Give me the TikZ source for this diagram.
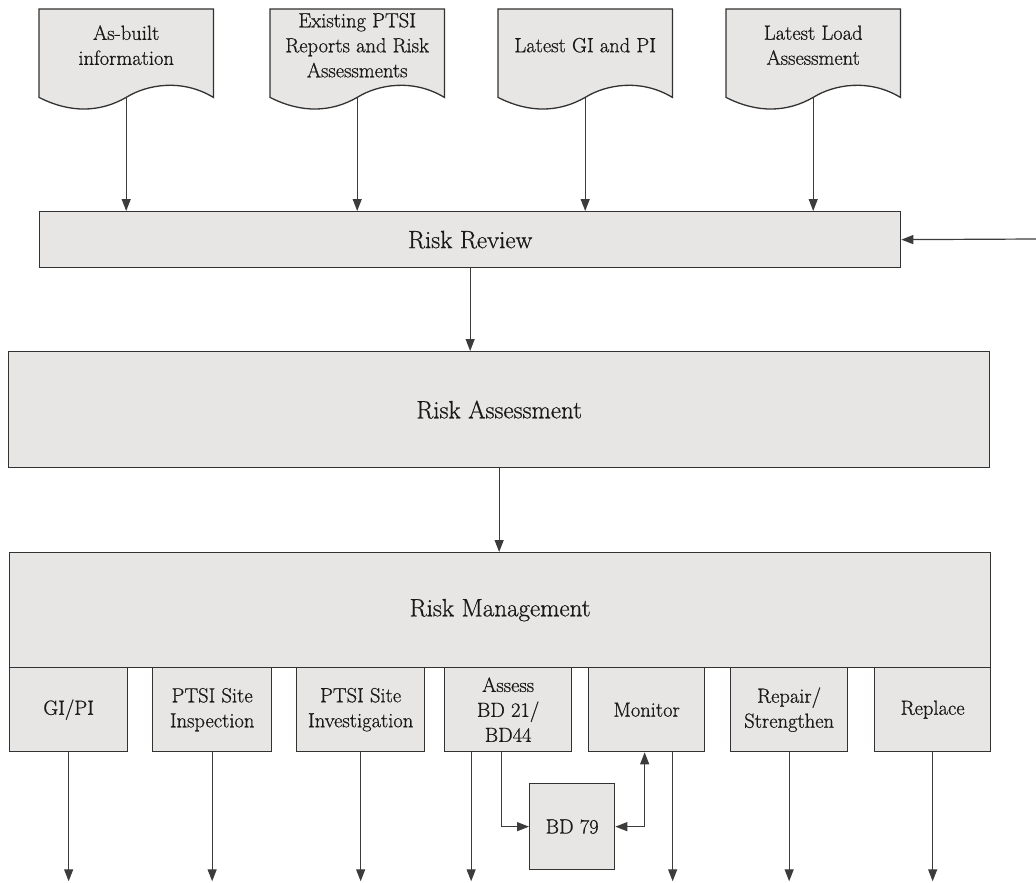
\documentclass[tikz,border=0pt]{standalone}
\usepackage{fontspec}
\setmainfont{Latin Modern Roman}[FakeBold=0.7]
\usetikzlibrary{arrows.meta,calc,backgrounds}
\definecolor{boxfill}{RGB}{231,230,229}
\definecolor{boxline}{RGB}{50,50,50}
\definecolor{arrowline}{RGB}{60,60,60}
\definecolor{txt}{RGB}{25,25,25}
\newcommand\mydocshape[1]{%
  \filldraw[draw=boxline, fill=boxfill, line width=1.3pt, line join=miter]
    (#1.north west) -- ($(#1.south west)+(0,16)$)
    .. controls ($(#1.south west)!0.18!(#1.south east)+(0,32)$) and ($(#1.south west)!0.35!(#1.south east)+(0,31)$) .. ($(#1.south)+(0,16)$)
    .. controls ($(#1.south west)!0.62!(#1.south east)+(0,3)$) and ($(#1.south west)!0.82!(#1.south east)+(0,-3)$) .. ($(#1.south east)+(0,16)$)
    -- (#1.north east) -- cycle;}
\begin{document}
\begin{tikzpicture}[x=1pt,y=-1pt,
  box/.style={draw=boxline, fill=boxfill, line width=1.3pt, inner sep=0pt, anchor=north west, align=center, text=txt, font=\fontsize{20.5}{25}\selectfont},
  bigbox/.style={box, font=\fontsize{25}{30}\selectfont},
  docnode/.style={inner sep=0pt, anchor=north west, align=center, text=txt, minimum width=174pt, minimum height=72pt, font=\fontsize{20.5}{25}\selectfont},
  flow/.style={draw=arrowline, line width=1.2pt, -{Triangle[length=12pt,width=9pt]}},
  flowboth/.style={flow, {Triangle[length=12pt,width=9pt]}-{Triangle[length=12pt,width=9pt]}},
]
\useasboundingbox (0,0) rectangle (1036,883);

% documents
\node[docnode] (d1) at (39,9) {As-built\\information};
\node[docnode] (d2) at (270,9) {Existing PTSI\\Reports and Risk\\Assessments};
\node[docnode] (d3) at (498,9) {Latest GI and PI};
\node[docnode] (d4) at (726,9) {Latest Load\\Assessment};
\begin{scope}[on background layer]
  \mydocshape{d1}
  \mydocshape{d2}
  \mydocshape{d3}
  \mydocshape{d4}
\end{scope}

% main boxes
\node[bigbox, minimum width=861pt, minimum height=56pt] (rr) at (39,211) {Risk Review};
\node[bigbox, minimum width=981pt, minimum height=116pt] (ra) at (8,351) {Risk Assessment};
\node[bigbox, minimum width=981pt, minimum height=115pt] (rm) at (9,552) {Risk Management};

% sub boxes
\node[box, minimum width=118pt, minimum height=84pt] (gi) at (9,667) {GI/PI};
\node[box, minimum width=119pt, minimum height=84pt] (si) at (152,667) {PTSI Site\\Inspection};
\node[box, minimum width=128pt, minimum height=84pt] (sv) at (296,667) {PTSI Site\\Investigation};
\node[box, minimum width=127pt, minimum height=84pt] (as) at (444,667) {Assess\\BD 21/\\BD44};
\node[box, minimum width=116pt, minimum height=84pt] (mo) at (588,667) {Monitor};
\node[box, minimum width=117pt, minimum height=84pt] (rp) at (730,667) {Repair/\\Strengthen};
\node[box, minimum width=116pt, minimum height=84pt] (rl) at (874,667) {Replace};
\node[box, minimum width=85pt, minimum height=86pt] (bd) at (529,783) {BD 79};

% connectors top
\draw[flow] ($(d1.south)+(0,16)$) -- (d1.south |- rr.north);
\draw[flow] ($(d2.south)+(0,16)$) -- (d2.south |- rr.north);
\draw[flow] ($(d3.south)+(0,16)$) -- (d3.south |- rr.north);
\draw[flow] ($(d4.south)+(0,16)$) -- (d4.south |- rr.north);
\coordinate (ext) at (1036,239);
\draw[flow] (ext) -- (rr.east);
\draw[flow] (rr.south) -- (rr.south |- ra.north);
\draw[flow] (ra.south) -- (ra.south |- rm.north);

% connectors bottom
\draw[flow] (gi.south) -- ++(0,129);
\draw[flow] (si.south) -- ++(0,129);
\draw[flow] (sv.south) -- ++(0,129);
\draw[flow] ([xshift=-37pt]as.south) -- ++(0,129);
\draw[flow] ([xshift=26pt]mo.south) -- ++(0,129);
\draw[flow] (rp.south) -- ++(0,129);
\draw[flow] (rl.south) -- ++(0,129);
\draw[flow] ([xshift=-7pt]as.south) |- (bd.west);
\draw[flowboth] (bd.east) -| ([xshift=-2pt]mo.south);
\end{tikzpicture}
\end{document}
